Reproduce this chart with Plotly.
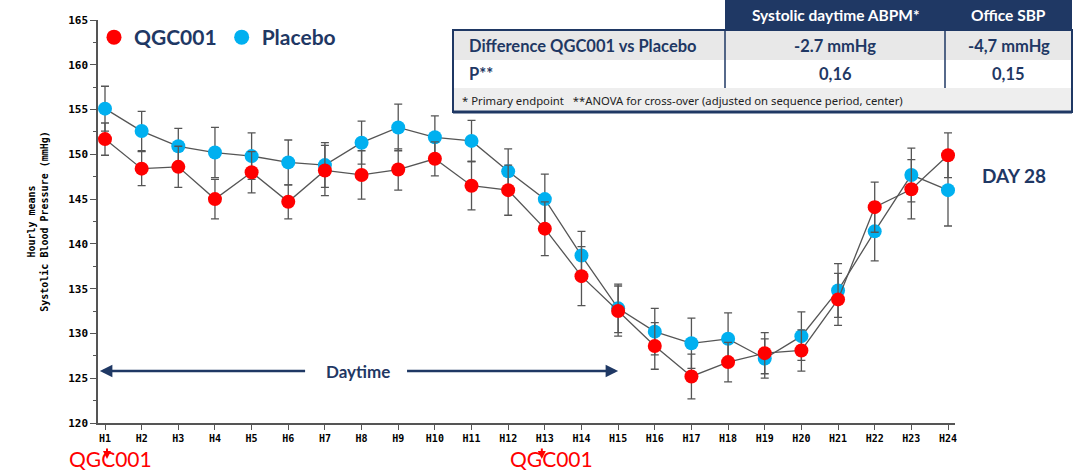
import plotly.graph_objects as go

hours = [f"H{i}" for i in range(1, 25)]

placebo = [155.1, 152.6, 150.9, 150.2, 149.8, 149.1, 148.8, 151.3, 153.0, 151.9, 151.5, 148.1,
           145.0, 138.7, 132.8, 130.2, 128.9, 129.4, 127.2, 129.7, 134.8, 141.4, 147.7, 146.0]
placebo_err = [2.5, 2.2, 2.0, 2.8, 2.6, 2.5, 2.5, 2.4, 2.6, 2.4, 2.3, 2.5,
               2.8, 2.7, 2.7, 2.6, 2.8, 2.9, 2.2, 2.7, 3.0, 3.3, 3.0, 4.0]

qgc001 = [151.7, 148.4, 148.6, 145.0, 148.0, 144.7, 148.2, 147.7, 148.3, 149.5, 146.5, 146.0,
          141.7, 136.4, 132.5, 128.6, 125.2, 126.8, 127.8, 128.1, 133.8, 144.1, 146.1, 149.9]
qgc001_err = [1.8, 1.9, 2.3, 2.2, 2.3, 1.9, 2.8, 2.7, 2.3, 1.9, 2.7, 2.8,
              3.0, 3.3, 2.8, 2.6, 2.5, 2.2, 2.3, 2.3, 2.9, 2.8, 3.3, 2.5]

y_ticks = [120, 125, 130, 135, 140, 145, 150, 155, 160, 165]

table_header = ["Systolic daytime ABPM*", "Office SBP"]
row_labels = ["Difference QGC001 vs Placebo", "P**"]
row_abpm = ["-2.7 mmHg", "0,16"]
row_office = ["-4,7 mmHg", "0,15"]
footnote = "* Primary endpoint   **ANOVA for cross-over (adjusted on sequence period, center)"

NAVY = "#1f3864"
RED = "#ff0000"
BLUE = "#00b0f0"
GREY = "#555555"

W, H = 1077, 472
L, R, T, B = 98, 122, 20, 49
PW, PH = W - L - R, H - T - B


def px(x):
    return (x - L) / PW


def py(y):
    return (H - B - y) / PH


xs = list(range(len(hours)))
fig = go.Figure()

for name, vals, errs, col in [("Placebo", placebo, placebo_err, BLUE),
                              ("QGC001", qgc001, qgc001_err, RED)]:
    fig.add_trace(go.Scatter(
        x=xs, y=vals, mode="lines+markers", name=name, showlegend=False,
        line=dict(color=GREY, width=1.3),
        marker=dict(color=col, size=14, line=dict(width=0)),
        error_y=dict(type="data", array=errs, visible=True, color=GREY, thickness=1.3, width=4),
    ))

for name, col in [("QGC001", RED), ("Placebo", BLUE)]:
    fig.add_trace(go.Scatter(x=[None], y=[None], mode="markers", name=name,
                             marker=dict(color=col, size=15), showlegend=True))

shapes = []
ann = []


def text(t, x, y, font, xanchor="center", yanchor="middle", **kw):
    ann.append(dict(text=t, x=px(x), y=py(y), xref="paper", yref="paper", showarrow=False,
                    xanchor=xanchor, yanchor=yanchor, font=font, **kw))


# table
x0, x1, x2, x3 = 453, 725, 945, 1072
yh0, yh1, yr1, yr2, yf = 0, 30, 60, 88, 112
shapes.append(dict(type="rect", xref="paper", yref="paper", x0=px(x1), x1=px(x3), y0=py(yh0), y1=py(yh1),
                   fillcolor=NAVY, line=dict(width=0), layer="above"))
shapes.append(dict(type="rect", xref="paper", yref="paper", x0=px(x0), x1=px(x3), y0=py(yh1), y1=py(yr1),
                   fillcolor="#e8e8e8", line=dict(width=0), layer="above"))
shapes.append(dict(type="rect", xref="paper", yref="paper", x0=px(x0), x1=px(x3), y0=py(yr1), y1=py(yr2),
                   fillcolor="white", line=dict(width=0), layer="above"))
shapes.append(dict(type="rect", xref="paper", yref="paper", x0=px(x0), x1=px(x3), y0=py(yr2), y1=py(yf),
                   fillcolor="#eeeeee", line=dict(width=0), layer="above"))
shapes.append(dict(type="rect", xref="paper", yref="paper", x0=px(x0), x1=px(x3), y0=py(yh1), y1=py(yf),
                   fillcolor="rgba(0,0,0,0)", line=dict(color=NAVY, width=2), layer="above"))
shapes.append(dict(type="line", xref="paper", yref="paper", x0=px(x0), x1=px(x3), y0=py(yf), y1=py(yf),
                   line=dict(color=NAVY, width=3), layer="above"))
for xv in (x1, x2):
    shapes.append(dict(type="line", xref="paper", yref="paper", x0=px(xv), x1=px(xv), y0=py(yh1), y1=py(yr2),
                       line=dict(color=NAVY, width=1.5), layer="above"))

cx_abpm, cx_off = (x1 + x2) / 2, (x2 + x3) / 2
tf = dict(family="Lato", size=16.5, color=NAVY, weight="bold")
hf = dict(family="Lato", size=15.5, color="white", weight="bold")
for t, cx in zip(table_header, [cx_abpm, cx_off]):
    text(t, cx, 15, hf)
for i, ycen in enumerate([46, 74]):
    text(row_labels[i], 467, ycen, tf, xanchor="left")
    text(row_abpm[i], cx_abpm, ycen, tf)
    text(row_office[i], cx_off, ycen, tf)
text(footnote, 460, 100, dict(family="Noto Sans", size=11.3, color="#222222"), xanchor="left")

# DAY 28
text("DAY 28", 1014, 175, dict(family="Lato", size=19, color=NAVY, weight="bold"))

# Daytime arrows
ydt = 125.8
ann.append(dict(x=-0.14, y=ydt, ax=5.5, ay=ydt, xref="x", yref="y", axref="x", ayref="y", text="",
                showarrow=True, arrowhead=2, arrowsize=1, arrowwidth=2.5, arrowcolor=NAVY))
ann.append(dict(x=14.0, y=ydt, ax=8.2, ay=ydt, xref="x", yref="y", axref="x", ayref="y", text="",
                showarrow=True, arrowhead=2, arrowsize=1, arrowwidth=2.5, arrowcolor=NAVY))
ann.append(dict(text="Daytime", x=6.9, y=ydt, xref="x", yref="y", showarrow=False,
                xanchor="center", yanchor="middle",
                font=dict(family="Lato", size=17, color=NAVY, weight="bold")))

# dosing annotations
for idx, tshift, ashift in [(0, 5, 2), (12, 7, -3)]:
    ann.append(dict(x=idx, y=py(459), xref="x", yref="paper", ax=0, ay=-12, text="", xshift=ashift,
                    showarrow=True, arrowhead=2, arrowsize=0.8, arrowwidth=2, arrowcolor=RED))
    ann.append(dict(text="QGC001", x=idx, y=py(473), xref="x", yref="paper", yanchor="bottom",
                    xanchor="center", xshift=tshift,
                    showarrow=False, font=dict(family="Lato", size=21, color=RED)))

fig.update_layout(
    width=W, height=H,
    margin=dict(l=L, r=R, t=T, b=B),
    paper_bgcolor="white", plot_bgcolor="white",
    shapes=shapes, annotations=ann,
    legend=dict(orientation="h", x=px(94), y=1.0 + 3 / PH, xanchor="left", yanchor="top",
                font=dict(family="Lato", size=21, color=NAVY, weight="bold"),
                bgcolor="rgba(0,0,0,0)", itemwidth=30),
    xaxis=dict(range=[-0.191, 23.191], tickmode="array", tickvals=xs, ticktext=hours,
               showgrid=False, zeroline=False, showline=True, linecolor=GREY, linewidth=1.5,
               ticks="outside", ticklen=5, tickcolor=GREY,
               tickfont=dict(family="DejaVu Sans Mono", size=10, color="black", weight="bold")),
    yaxis=dict(range=[120, 165], tickmode="array", tickvals=y_ticks,
               showgrid=False, zeroline=False, showline=True, linecolor=GREY, linewidth=1.5,
               ticks="outside", ticklen=6, tickcolor=GREY,
               minor=dict(dtick=2.5, ticks="outside", ticklen=3, tickcolor=GREY, showgrid=False),
               tickfont=dict(family="DejaVu Sans Mono", size=11, color="black", weight="bold"),
               title=dict(text="Hourly means<br>Systolic Blood Pressure (mmHg)", standoff=18,
                          font=dict(family="DejaVu Sans Mono", size=10, color="black", weight="bold"))),
)

fig.write_html("out.html", config={"displayModeBar": False},
               post_script="document.body.style.margin='0px';")
